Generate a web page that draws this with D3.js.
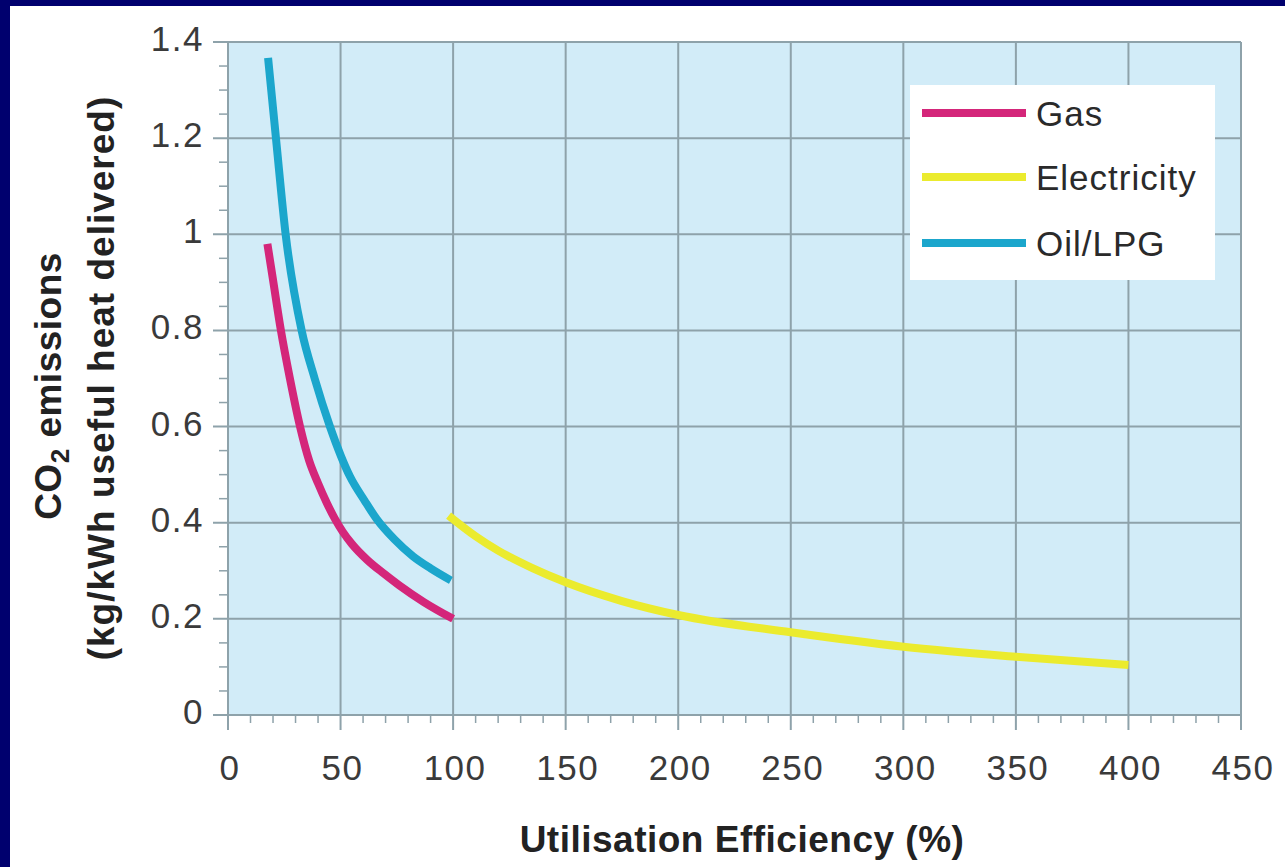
<!DOCTYPE html>
<html>
<head>
<meta charset="utf-8">
<script src="https://cdn.jsdelivr.net/npm/d3@7"></script>
<style>
  html, body { margin: 0; padding: 0; background: #ffffff; }
  svg { display: block; }
</style>
</head>
<body>
<svg id="chart" width="1285" height="867"></svg>
<script>
// ---- data ----
const xTicks = [0, 50, 100, 150, 200, 250, 300, 350, 400, 450];
const yTicks = [0, 0.2, 0.4, 0.6, 0.8, 1, 1.2, 1.4];
const yTickLabels = ["0", "0.2", "0.4", "0.6", "0.8", "1", "1.2", "1.4"];

const gasX = [17.5, 20, 23.5, 27.5, 32, 36, 40, 44, 47.5, 51, 55, 62, 69, 76, 87, 100];
const gasY = [0.98, 0.905, 0.80, 0.70, 0.60, 0.53, 0.482, 0.44, 0.408, 0.381, 0.356, 0.322, 0.295, 0.27, 0.235, 0.200];

const elecX = [98, 110, 120, 135, 150, 175, 200, 250, 300, 350, 400];
const elecY = [0.415, 0.372, 0.342, 0.306, 0.276, 0.237, 0.208, 0.172, 0.142, 0.121, 0.104];

const oilX = [17.8, 21.3, 25.6, 32.7, 38.5, 45.3, 54.2, 60.8, 66, 74, 82.2, 90, 99];
const oilY = [1.367, 1.2, 1.0, 0.80, 0.70, 0.60, 0.496, 0.445, 0.408, 0.365, 0.33, 0.305, 0.280];

const seriesNames = ["Gas", "Electricity", "Oil/LPG"];

// ---- styles ----
const colors = { "Gas": "#d4267a", "Electricity": "#ebeb2e", "Oil/LPG": "#1ba6cc" };
const gridColor = "#8ea2aa";
const plotBg = "#d2ecf8";
const navy = "#00006e";

const svg = d3.select("#chart");
const W = 1285, H = 867;

// border (top and left strips)
svg.append("rect").attr("x", 0).attr("y", 0).attr("width", W).attr("height", 6).attr("fill", navy);
svg.append("rect").attr("x", 0).attr("y", 0).attr("width", 10).attr("height", H).attr("fill", navy);

const x = d3.scaleLinear().domain([0, 450]).range([228, 1241]);
const y = d3.scaleLinear().domain([0, 1.4]).range([715, 42]);

// plot background
svg.append("rect")
  .attr("x", x(0)).attr("y", y(1.4))
  .attr("width", x(450) - x(0)).attr("height", y(0) - y(1.4))
  .attr("fill", plotBg);

// grid lines
svg.append("g").selectAll("line.v").data(xTicks).join("line")
  .attr("x1", d => x(d)).attr("x2", d => x(d))
  .attr("y1", y(1.4)).attr("y2", y(0) + 15)
  .attr("stroke", gridColor).attr("stroke-width", 2);
svg.append("g").selectAll("line.h").data(yTicks).join("line")
  .attr("x1", x(0) - 15).attr("x2", x(450))
  .attr("y1", d => y(d)).attr("y2", d => y(d))
  .attr("stroke", gridColor).attr("stroke-width", 2);

// minor ticks
const xMinor = d3.range(0, 451, 10).filter(v => v % 50 !== 0);
svg.append("g").selectAll("line").data(xMinor).join("line")
  .attr("x1", d => x(d)).attr("x2", d => x(d))
  .attr("y1", y(0)).attr("y2", y(0) + 8)
  .attr("stroke", gridColor).attr("stroke-width", 1.5);
const yMinor = d3.range(0, 28).map(i => i * 0.05).filter(v => Math.abs(v / 0.2 - Math.round(v / 0.2)) > 1e-6);
svg.append("g").selectAll("line").data(yMinor).join("line")
  .attr("x1", x(0) - 9).attr("x2", x(0))
  .attr("y1", d => y(d)).attr("y2", d => y(d))
  .attr("stroke", gridColor).attr("stroke-width", 1.5);

// tick labels
const fontFam = "'Liberation Sans', Arial, sans-serif";
svg.append("g").selectAll("text").data(xTicks).join("text")
  .attr("x", d => x(d) + 2).attr("y", 780)
  .attr("text-anchor", "middle")
  .attr("font-family", fontFam).attr("font-size", 35)
  .attr("letter-spacing", 1.5)
  .attr("fill", "#3a3a3a")
  .text(d => d);
svg.append("g").selectAll("text").data(yTicks).join("text")
  .attr("x", 204).attr("y", d => y(d) + 9)
  .attr("text-anchor", "end")
  .attr("font-family", fontFam).attr("font-size", 35)
  .attr("letter-spacing", 1.5)
  .attr("fill", "#3a3a3a")
  .text((d, i) => yTickLabels[i]);

// axis titles
svg.append("text")
  .attr("x", 742).attr("y", 852)
  .attr("text-anchor", "middle")
  .attr("font-family", fontFam).attr("font-size", 37).attr("font-weight", "bold")
  .attr("letter-spacing", 0.5)
  .attr("fill", "#222")
  .text("Utilisation Efficiency (%)");

const yt1 = svg.append("text")
  .attr("transform", "translate(61,386) rotate(-90)")
  .attr("text-anchor", "middle")
  .attr("font-family", fontFam).attr("font-size", 37).attr("font-weight", "bold")
  .attr("letter-spacing", 0.5)
  .attr("fill", "#222");
yt1.append("tspan").text("CO");
yt1.append("tspan").attr("font-size", 26).attr("dy", 8).text("2");
yt1.append("tspan").attr("dy", -8).text(" emissions");

svg.append("text")
  .attr("transform", "translate(114,378) rotate(-90)")
  .attr("text-anchor", "middle")
  .attr("font-family", fontFam).attr("font-size", 37).attr("font-weight", "bold")
  .attr("letter-spacing", 1)
  .attr("fill", "#222")
  .text("(kg/kWh useful heat delivered)");

// curves
const line = d3.line().x(d => x(d[0])).y(d => y(d[1])).curve(d3.curveMonotoneX);
const seriesData = {
  "Gas": gasX.map((v, i) => [v, gasY[i]]),
  "Electricity": elecX.map((v, i) => [v, elecY[i]]),
  "Oil/LPG": oilX.map((v, i) => [v, oilY[i]])
};
["Electricity", "Gas", "Oil/LPG"].forEach(name => {
  svg.append("path")
    .attr("d", line(seriesData[name]))
    .attr("fill", "none")
    .attr("stroke", colors[name])
    .attr("stroke-width", 8)
    .attr("stroke-linejoin", "round");
});

// legend
svg.append("rect")
  .attr("x", 910).attr("y", 85).attr("width", 305).attr("height", 195)
  .attr("fill", "#ffffff");
const legY = [113, 177, 243];
const leg = svg.append("g").selectAll("g").data(seriesNames).join("g")
  .attr("transform", (d, i) => `translate(0,${legY[i]})`);
leg.append("line")
  .attr("x1", 922).attr("x2", 1026).attr("y1", 0).attr("y2", 0)
  .attr("stroke", d => colors[d]).attr("stroke-width", 8);
leg.append("text")
  .attr("x", 1036).attr("y", 13)
  .attr("font-family", fontFam).attr("font-size", 35)
  .attr("letter-spacing", 1)
  .attr("fill", "#2a2a2a")
  .text(d => d);
</script>
</body>
</html>
